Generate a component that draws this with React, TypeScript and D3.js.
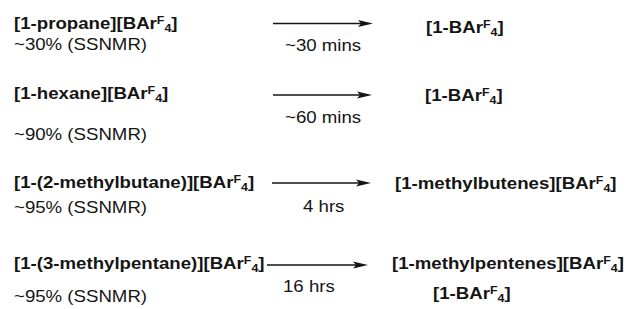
import * as d3 from 'd3';
import { useEffect, useRef } from 'react';

const WIDTH = 627;
const HEIGHT = 309;

// scheme text, "^" = superscript char, "_" = subscript char
const reactants = [
    '[1-propane][BAr^F_4]',
    '[1-hexane][BAr^F_4]',
    '[1-(2-methylbutane)][BAr^F_4]',
    '[1-(3-methylpentane)][BAr^F_4]',
];
const yields = ['~30% (SSNMR)', '~90% (SSNMR)', '~95% (SSNMR)', '~95% (SSNMR)'];
const times = ['~30 mins', '~60 mins', '4 hrs', '16 hrs'];
const products = [
    ['[1-BAr^F_4]'],
    ['[1-BAr^F_4]'],
    ['[1-methylbutenes][BAr^F_4]'],
    ['[1-methylpentenes][BAr^F_4]', '[1-BAr^F_4]'],
];

// layout (px, text baselines)
const LAYOUT = {
    reactant: { x: 14, y: [29, 99, 188, 269] },
    yieldY: [50, 140, 213, 302],
    arrow: [
        { x0: 273, x1: 373, y: 23.5 },
        { x0: 273, x1: 372, y: 95 },
        { x0: 272, x1: 371, y: 183 },
        { x0: 267, x1: 368, y: 265 },
    ],
    time: [
        { x: 285, y: 51 },
        { x: 285, y: 123 },
        { x: 303, y: 212 },
        { x: 283, y: 292 },
    ],
    product: [
        [{ x: 426, y: 33 }],
        [{ x: 425, y: 101 }],
        [{ x: 395, y: 189 }],
        [{ x: 392, y: 269 }, { x: 433, y: 299 }],
    ],
};

const FONT = '"Liberation Sans", Arial, Helvetica, sans-serif';
const FONT_SIZE = 16.5;
const STRETCH = 1.13; // source image is a bit wide
const INK = '#151515';

function addLabel(g, text: string, x: number, y: number, bold: boolean) {
    const t = g.append('text')
        .attr('transform', `translate(${x},${y}) scale(${STRETCH},1)`)
        .attr('font-family', FONT)
        .attr('font-size', FONT_SIZE)
        .attr('font-weight', bold ? 700 : 400)
        .attr('fill', INK);

    // split into plain runs and ^x / _x chars
    const parts = text.split(/(\^.|_.)/).filter((p) => p.length);
    let shift = 0;
    parts.forEach((p) => {
        let size = FONT_SIZE;
        let content = p;
        let target = 0;
        if (p[0] === '^') { target = -5.5; size = 11; content = p.slice(1); }
        else if (p[0] === '_') { target = 3; size = 11; content = p.slice(1); }
        const dy = target - shift;
        shift = target;
        t.append('tspan')
            .attr('dy', dy)
            .attr('font-size', size)
            .text(content);
    });
}

function arrowPath(x0: number, x1: number, y: number) {
    const p = d3.path();
    p.moveTo(x0, y);
    p.lineTo(x1 - 10, y);
    return p.toString();
}

function headPath(x1: number, y: number) {
    const p = d3.path();
    p.moveTo(x1, y);
    p.lineTo(x1 - 15, y - 3.6);
    p.lineTo(x1 - 12, y);
    p.lineTo(x1 - 15, y + 3.6);
    p.closePath();
    return p.toString();
}

const Scheme = () => {
    const svgRef = useRef(null);

    useEffect(() => {
        const svg = d3.select(svgRef.current);
        svg.selectAll('*').remove();
        svg.append('rect').attr('width', WIDTH).attr('height', HEIGHT).attr('fill', '#fff');

        const g = svg.append('g');

        reactants.forEach((r, i) => {
            addLabel(g, r, LAYOUT.reactant.x, LAYOUT.reactant.y[i], true);
            addLabel(g, yields[i], LAYOUT.reactant.x, LAYOUT.yieldY[i], false);

            const a = LAYOUT.arrow[i];
            g.append('path')
                .attr('d', arrowPath(a.x0, a.x1, a.y))
                .attr('stroke', INK)
                .attr('stroke-width', 1.3)
                .attr('fill', 'none');
            g.append('path')
                .attr('d', headPath(a.x1, a.y))
                .attr('fill', INK);

            addLabel(g, times[i], LAYOUT.time[i].x, LAYOUT.time[i].y, false);

            products[i].forEach((p, j) => {
                const pos = LAYOUT.product[i][j];
                addLabel(g, p, pos.x, pos.y, true);
            });
        });
    }, []);

    return <svg ref={svgRef} width={WIDTH} height={HEIGHT} style={{ display: 'block' }} />;
};

export default function App() {
    return (
        <div style={{ position: 'fixed', left: 0, top: 0, width: WIDTH, height: HEIGHT, background: '#fff' }}>
            <Scheme />
        </div>
    );
}
